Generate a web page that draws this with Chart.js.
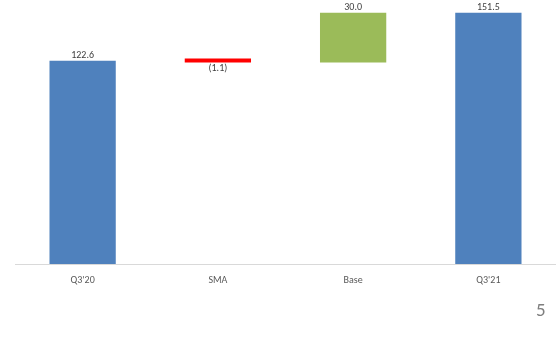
<!DOCTYPE html>
<html>
<head>
<meta charset="utf-8">
<script src="https://cdn.jsdelivr.net/npm/chart.js@4"></script>
<style>
  html, body { margin: 0; padding: 0; background: #fff; }
  #wrap { position: relative; width: 556px; height: 341px; }
  #pageNo { position: absolute; left: 536px; top: 298px; font: 19px Calibri, "Liberation Sans", "DejaVu Sans", sans-serif; color: #7f7f7f; }
</style>
</head>
<body>
<div id="wrap">
  <canvas id="bridge"></canvas>
  <div id="pageNo">5</div>
</div>
<script>
// waterfall data
const categories = ["Q3'20", "SMA", "Base", "Q3'21"];
const values = [122.6, -1.1, 30.0, 151.5];
const isTotal = [true, false, false, true];
const barColors = ['#4F81BD', '#FF0000', '#9BBB59', '#4F81BD'];

// build floating ranges
let running = 0;
const ranges = values.map((v, i) => {
  if (isTotal[i]) {
    running = v;
    return [0, v];
  }
  const start = running;
  running = running + v;
  return [start, running];
});

function fmt(v) {
  return v < 0 ? '(' + Math.abs(v).toFixed(1) + ')' : v.toFixed(1);
}

// value labels above / below each bar
const valueLabels = {
  id: 'valueLabels',
  afterDatasetsDraw(chart) {
    const ctx = chart.ctx;
    const meta = chart.getDatasetMeta(0);
    ctx.save();
    ctx.font = '10px Calibri, "Liberation Sans", "DejaVu Sans", sans-serif';
    ctx.fillStyle = '#404040';
    ctx.textAlign = 'center';
    meta.data.forEach((bar, i) => {
      const top = Math.min(bar.y, bar.base);
      const bottom = Math.max(bar.y, bar.base);
      if (values[i] < 0) {
        ctx.textBaseline = 'top';
        ctx.fillText(fmt(values[i]), bar.x, bottom + 1);
      } else {
        ctx.textBaseline = 'bottom';
        ctx.fillText(fmt(values[i]), bar.x, top);
      }
    });
    ctx.restore();
  }
};

new Chart(document.getElementById('bridge'), {
  type: 'bar',
  data: {
    labels: categories,
    datasets: [{
      data: ranges,
      backgroundColor: barColors,
      borderWidth: 0,
      barPercentage: 0.49,
      categoryPercentage: 1,
      minBarLength: 4
    }]
  },
  options: {
    responsive: true,
    maintainAspectRatio: false,
    animation: false,
    layout: { padding: { left: 15, right: 0, top: 7, bottom: 51 } },
    plugins: {
      legend: { display: false },
      tooltip: { enabled: false }
    },
    scales: {
      x: {
        grid: { display: false },
        border: { color: '#d9d9d9', width: 1 },
        ticks: {
          color: '#595959',
          padding: 2,
          font: { size: 10, family: 'Calibri, "Liberation Sans", "DejaVu Sans", sans-serif' }
        },
        afterFit(scale) { scale.height = 26; }
      },
      y: {
        display: false,
        min: 0,
        max: 155
      }
    }
  },
  plugins: [valueLabels]
});
</script>
</body>
</html>
